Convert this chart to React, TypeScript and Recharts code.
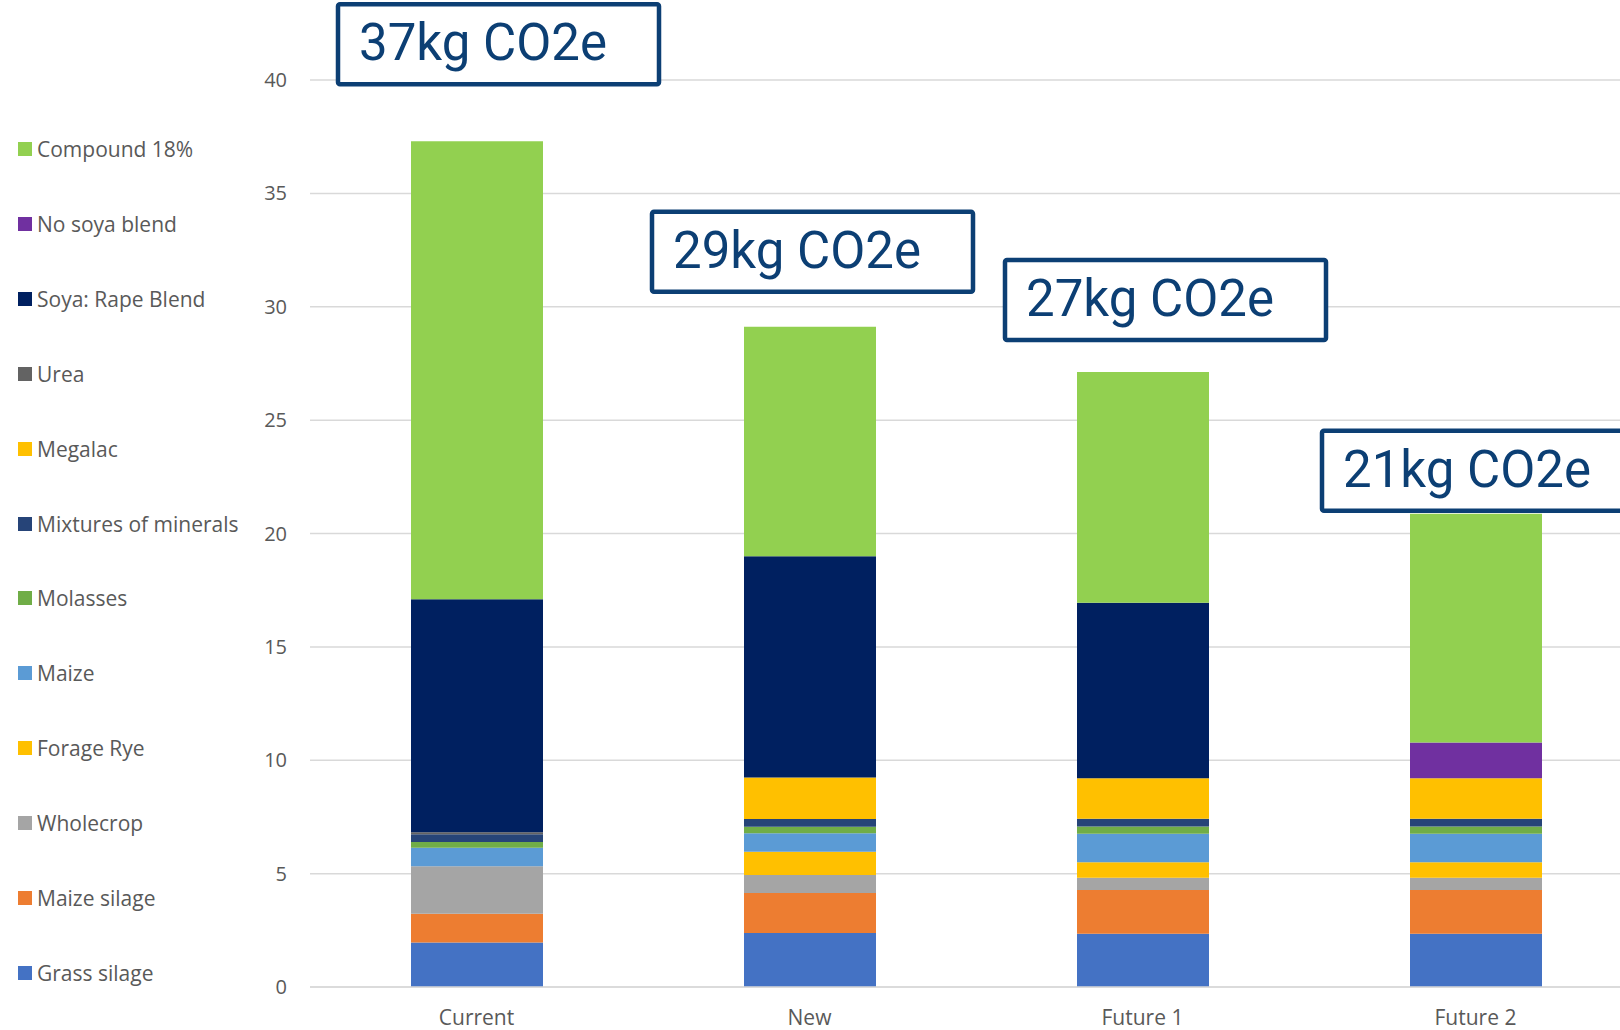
import { BarChart, Bar, XAxis, YAxis, CartesianGrid, Legend, LabelList } from 'recharts';

const scenarios = ['Current', 'New', 'Future 1', 'Future 2'];

// kg CO2e per feed, listed from the bottom of each stack upwards
const grassSilage = [1.96, 2.38, 2.35, 2.35];
const maizeSilage = [1.27, 1.77, 1.93, 1.93];
const wholecrop = [2.1, 0.79, 0.54, 0.54];
const forageRye = [0, 1.03, 0.68, 0.68];
const maize = [0.81, 0.81, 1.26, 1.26];
const molasses = [0.25, 0.29, 0.32, 0.32];
const minerals = [0.35, 0.34, 0.34, 0.34];
const megalac = [0, 1.83, 1.79, 1.79];
const urea = [0.09, 0, 0, 0];
const soyaRape = [10.27, 9.76, 7.74, 0];
const noSoya = [0, 0, 0, 1.57];
const compound = [20.2, 10.12, 10.17, 10.09];

const yTicks = [0, 5, 10, 15, 20, 25, 30, 35, 40];

const series = [
  { key: 'grass', name: 'Grass silage', color: '#4472C4', values: grassSilage },
  { key: 'maizeSilage', name: 'Maize silage', color: '#ED7D31', values: maizeSilage },
  { key: 'wholecrop', name: 'Wholecrop', color: '#A5A5A5', values: wholecrop },
  { key: 'forageRye', name: 'Forage Rye', color: '#FFC000', values: forageRye },
  { key: 'maize', name: 'Maize', color: '#5B9BD5', values: maize },
  { key: 'molasses', name: 'Molasses', color: '#70AD47', values: molasses },
  { key: 'minerals', name: 'Mixtures of minerals', color: '#264478', values: minerals },
  { key: 'megalac', name: 'Megalac', color: '#FFC000', values: megalac },
  { key: 'urea', name: 'Urea', color: '#636363', values: urea },
  { key: 'soyaRape', name: 'Soya: Rape Blend', color: '#002060', values: soyaRape },
  { key: 'noSoya', name: 'No soya blend', color: '#7030A0', values: noSoya },
  { key: 'compound', name: 'Compound 18%', color: '#92D050', values: compound },
];

const data = scenarios.map((name, i) => {
  const row: Record<string, number | string> = { name };
  let total = 0;
  for (const s of series) {
    row[s.key] = s.values[i];
    total += s.values[i];
  }
  row.total = total;
  return row;
});

// total boxes sit above each bar, nudged by hand
const boxShift = [-73, -92, -72, -88];
const boxGap = [57, 35, 32, 3];
const BOX_W = 321;
const BOX_H = 80;
const NAVY = '#0c3f74';
const GREY = '#595959';
const FONT = '"Open Sans", sans-serif';

function TotalBox(props: any) {
  const vb = props.viewBox ?? {};
  const x = Number(props.x ?? vb.x);
  const y = Number(props.y ?? vb.y);
  const i = props.index ?? 0;
  const left = x + boxShift[i];
  const top = y - boxGap[i] - BOX_H;
  return (
    <g>
      <rect
        x={left}
        y={top}
        width={BOX_W}
        height={BOX_H}
        rx={2}
        fill="#ffffff"
        stroke={NAVY}
        strokeWidth={4.5}
      />
      <text x={left + 21} y={top + BOX_H / 2 + 16} fontSize={51} fontFamily="Roboto" fill={NAVY}>
        {`${Math.round(Number(props.value))}kg CO2e`}
      </text>
    </g>
  );
}

function FeedLegend() {
  return (
    <div style={{ position: 'relative', width: 240, height: 1030 }}>
      {[...series].reverse().map((s, i) => (
        <div
          key={s.key}
          style={{
            position: 'absolute',
            left: 18,
            top: 149 + i * 74.9 - 14,
            height: 28,
            display: 'flex',
            alignItems: 'center',
            fontFamily: FONT,
            fontSize: 21,
            color: GREY,
            whiteSpace: 'nowrap',
          }}
        >
          <span style={{ width: 14, height: 14, background: s.color, marginRight: 5 }} />
          {s.name}
        </div>
      ))}
    </div>
  );
}

export default function App() {
  return (
    <div
      style={{
        position: 'absolute',
        left: 0,
        top: 0,
        width: 1620,
        height: 1030,
        overflow: 'hidden',
        background: '#ffffff',
      }}
    >
      <BarChart
        width={1642}
        height={1030}
        data={data}
        margin={{ top: 80, right: 0, bottom: 3, left: 0 }}
        barCategoryGap={0}
      >
        <CartesianGrid vertical={false} stroke="#d9d9d9" strokeWidth={1.5} />
        <XAxis
          dataKey="name"
          height={40}
          tickLine={false}
          axisLine={{ stroke: '#d9d9d9', strokeWidth: 1.5 }}
          tickSize={0}
          tickMargin={23}
          tick={{ fill: GREY, fontSize: 21, fontFamily: FONT }}
        />
        <YAxis
          width={70}
          domain={[0, 40]}
          ticks={yTicks}
          tickLine={false}
          axisLine={false}
          tickSize={0}
          tickMargin={23}
          tick={{ fill: GREY, fontSize: 20, fontFamily: FONT }}
        />
        <Legend
          layout="vertical"
          align="left"
          verticalAlign="top"
          content={() => <FeedLegend />}
          wrapperStyle={{ left: 0, top: 0, width: 240, height: 1030 }}
        />
        {series.map((s) => (
          <Bar
            key={s.key}
            dataKey={s.key}
            name={s.name}
            stackId="feed"
            fill={s.color}
            barSize={132}
            isAnimationActive={false}
          >
            {s.key === 'compound' && (
              <LabelList dataKey="total" content={(p: any) => <TotalBox {...p} />} />
            )}
          </Bar>
        ))}
      </BarChart>
    </div>
  );
}
